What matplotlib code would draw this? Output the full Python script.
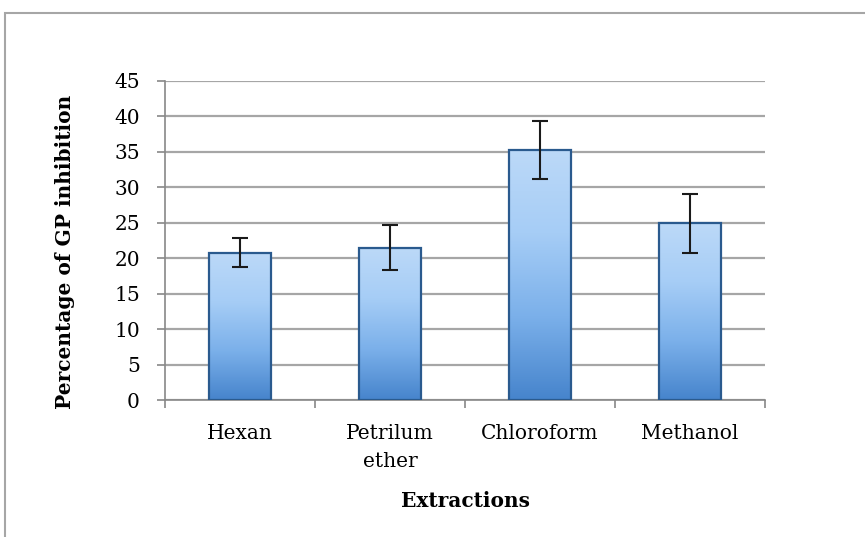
import numpy as np
import matplotlib
matplotlib.use("Agg")
import matplotlib.pyplot as plt
from matplotlib.colors import LinearSegmentedColormap
from matplotlib.patches import Rectangle

categories = ["Hexan", "Petrilum\nether", "Chloroform", "Methanol"]
values = [20.8, 21.5, 35.3, 24.9]
errors = [2.0, 3.2, 4.1, 4.1]
yticks = [0, 5, 10, 15, 20, 25, 30, 35, 40, 45]

plt.rcParams['font.family'] = ['DejaVu Serif']

fig = plt.figure(figsize=(8.65, 5.37), dpi=100)
ax = fig.add_axes([165/865, 1 - 400/537, 600/865, 319/537])

# border of figure
fig.add_artist(Rectangle((5/865, -0.01), 1.0, 1 - 13/537 + 0.01, transform=fig.transFigure,
                         fill=False, edgecolor='#a6a6a6', linewidth=1.5))

x = np.arange(len(categories))
bars = ax.bar(x, values, width=0.41, color='none', edgecolor='#2a5a8e', linewidth=1.6, zorder=3)
cmap = LinearSegmentedColormap.from_list('g', ['#4684cc', '#7bb0ea', '#a6cdf6', '#bcd9f8'])
grad = np.linspace(0, 1, 256).reshape(-1, 1)
for b in bars:
    bx, by = b.get_x(), b.get_y()
    w, h = b.get_width(), b.get_height()
    im = ax.imshow(grad, extent=[bx, bx + w, by, by + h], origin='lower', aspect='auto',
                   cmap=cmap, zorder=2)
    im.set_clip_path(b)
ax.errorbar(x, values, yerr=errors, fmt='none', ecolor='#1a1a1a', elinewidth=1.5,
            capsize=6, capthick=1.5, zorder=4)

ax.set_xlim(-0.5, len(categories) - 0.5)
ax.set_ylim(0, 45)
ax.set_yticks(yticks)
ax.set_yticklabels([str(t) for t in yticks], fontsize=14.5)
ax.set_xticks(x)
ax.set_xticklabels(categories, fontsize=14.5, linespacing=1.6)
ax.tick_params(axis='x', length=0, pad=17)
ax.set_xticks(np.arange(-0.5, len(categories)), minor=True)
ax.tick_params(axis='x', which='minor', length=6, color='#888888', width=1.2)
ax.tick_params(axis='y', length=6, color='#888888', width=1.2, pad=12)
ax.yaxis.grid(True, color='#a6a6a6', linewidth=1.6, zorder=0)
ax.set_axisbelow(True)
for s in ['top', 'right']:
    ax.spines[s].set_visible(False)
for s in ['left', 'bottom']:
    ax.spines[s].set_color('#888888')
    ax.spines[s].set_linewidth(1.2)

ax.set_ylabel("Percentage of GP inhibition", fontsize=14.5, fontweight='bold')
ax.yaxis.set_label_coords(-0.150, 0.464)
ax.set_xlabel("Extractions", fontsize=14.5, fontweight='bold')
ax.xaxis.set_label_coords(0.5, -0.285)

fig.savefig("out.png", dpi=100)
